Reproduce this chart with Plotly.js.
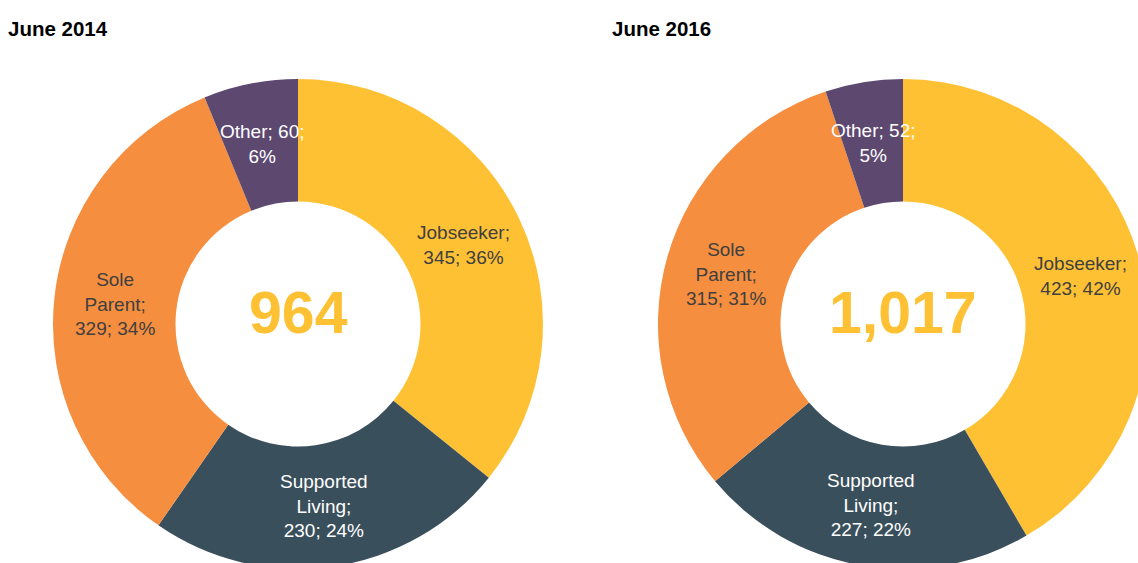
<!DOCTYPE html>
<html>
<head>
<meta charset="utf-8">
<script src="https://cdn.plot.ly/plotly-3.0.1.min.js"></script>
<style>
  html, body { margin: 0; padding: 0; overflow: hidden; background: #fff; width: 1138px; height: 563px; }
  #chart { width: 1160px; height: 569px; }
</style>
</head>
<body>
<div id="chart"></div>
<script>
// Data
const categories = ['Jobseeker', 'Supported Living', 'Sole Parent', 'Other'];
const labelLines = ['Jobseeker;', 'Supported<br>Living;', 'Sole<br>Parent;', 'Other;'];
const valueBreak = ['<br>', '<br>', '<br>', ' '];
const pctBreak = [' ', ' ', ' ', '<br>'];
const values2014 = [345, 230, 329, 60];
const values2016 = [423, 227, 315, 52];
const panelTitles = ['June 2014', 'June 2016'];

const colors = ['#FFC134', '#3A4F5C', '#F58E3F', '#5D4870'];
const textColors = ['#404040', '#FFFFFF', '#404040', '#FFFFFF'];
const FONT = 'Liberation Sans, Arial, sans-serif';

function sum(vals) { return vals.reduce((a, b) => a + b, 0); }
function buildText(vals) {
  const t = sum(vals);
  return vals.map((v, i) => labelLines[i] + valueBreak[i] + v + ';' + pctBreak[i] + Math.round(v / t * 100) + '%');
}

// Geometry (layout only)
const W = 1160, H = 569, topM = 79;
const plotH = H - topM;          // pie outer diameter
const HOLE = 0.5;
const centers = [298, 903];

function pieTrace(vals, cx) {
  const half = 257;
  return {
    type: 'pie',
    labels: categories,
    values: vals,
    textinfo: 'none',
    hole: HOLE,
    sort: false,
    direction: 'clockwise',
    rotation: 0,
    marker: { colors: colors, line: { width: 0 } },
    domain: { x: [(cx - half) / W, Math.min(1, (cx + half) / W)], y: [0, 1] },
    showlegend: false,
    hoverinfo: 'label+value+percent'
  };
}

// slice labels positioned at each slice's mid-angle, mid-ring radius (derived from the data)
function sliceLabels(vals, cx) {
  const t = sum(vals);
  const texts = buildText(vals);
  const R = plotH / 2, rMid = R * (1 + HOLE) / 2;
  const cy = topM + R;
  let cum = 0;
  return vals.map((v, i) => {
    const mid = (cum + v / 2) / t * 2 * Math.PI;
    cum += v;
    const px = cx + rMid * Math.sin(mid);
    const py = cy - rMid * Math.cos(mid);
    return {
      text: texts[i], xref: 'paper', yref: 'paper',
      x: px / W, y: (H - py) / plotH, xanchor: 'center', yanchor: 'middle',
      showarrow: false, align: 'center',
      font: { family: FONT, size: 19, color: textColors[i] }
    };
  });
}

function centerTotal(vals, cx) {
  return {
    text: '<b>' + sum(vals).toLocaleString('en-US') + '</b>', xref: 'paper', yref: 'paper',
    x: cx / W, y: 0.5 + 11 / plotH, xanchor: 'center', yanchor: 'middle', showarrow: false,
    font: { family: FONT, size: 59, color: '#FFC134' }
  };
}

function panelTitle(text, px) {
  return {
    text: '<b>' + text + '</b>', xref: 'paper', yref: 'paper',
    x: px / W, y: 1 + (topM - 28) / plotH, xanchor: 'left', yanchor: 'middle', showarrow: false,
    font: { family: FONT, size: 20.5, color: '#000' }
  };
}

const data = [pieTrace(values2014, centers[0]), pieTrace(values2016, centers[1])];

const layout = {
  width: W, height: H,
  margin: { l: 0, r: 0, t: topM, b: 0 },
  paper_bgcolor: '#fff',
  showlegend: false,
  annotations: [].concat(
    sliceLabels(values2014, centers[0]),
    sliceLabels(values2016, centers[1]),
    [centerTotal(values2014, centers[0]), centerTotal(values2016, centers[1]),
     panelTitle(panelTitles[0], 6), panelTitle(panelTitles[1], 610)]
  )
};

Plotly.newPlot('chart', data, layout, { displayModeBar: false, staticPlot: true });
</script>
</body>
</html>
